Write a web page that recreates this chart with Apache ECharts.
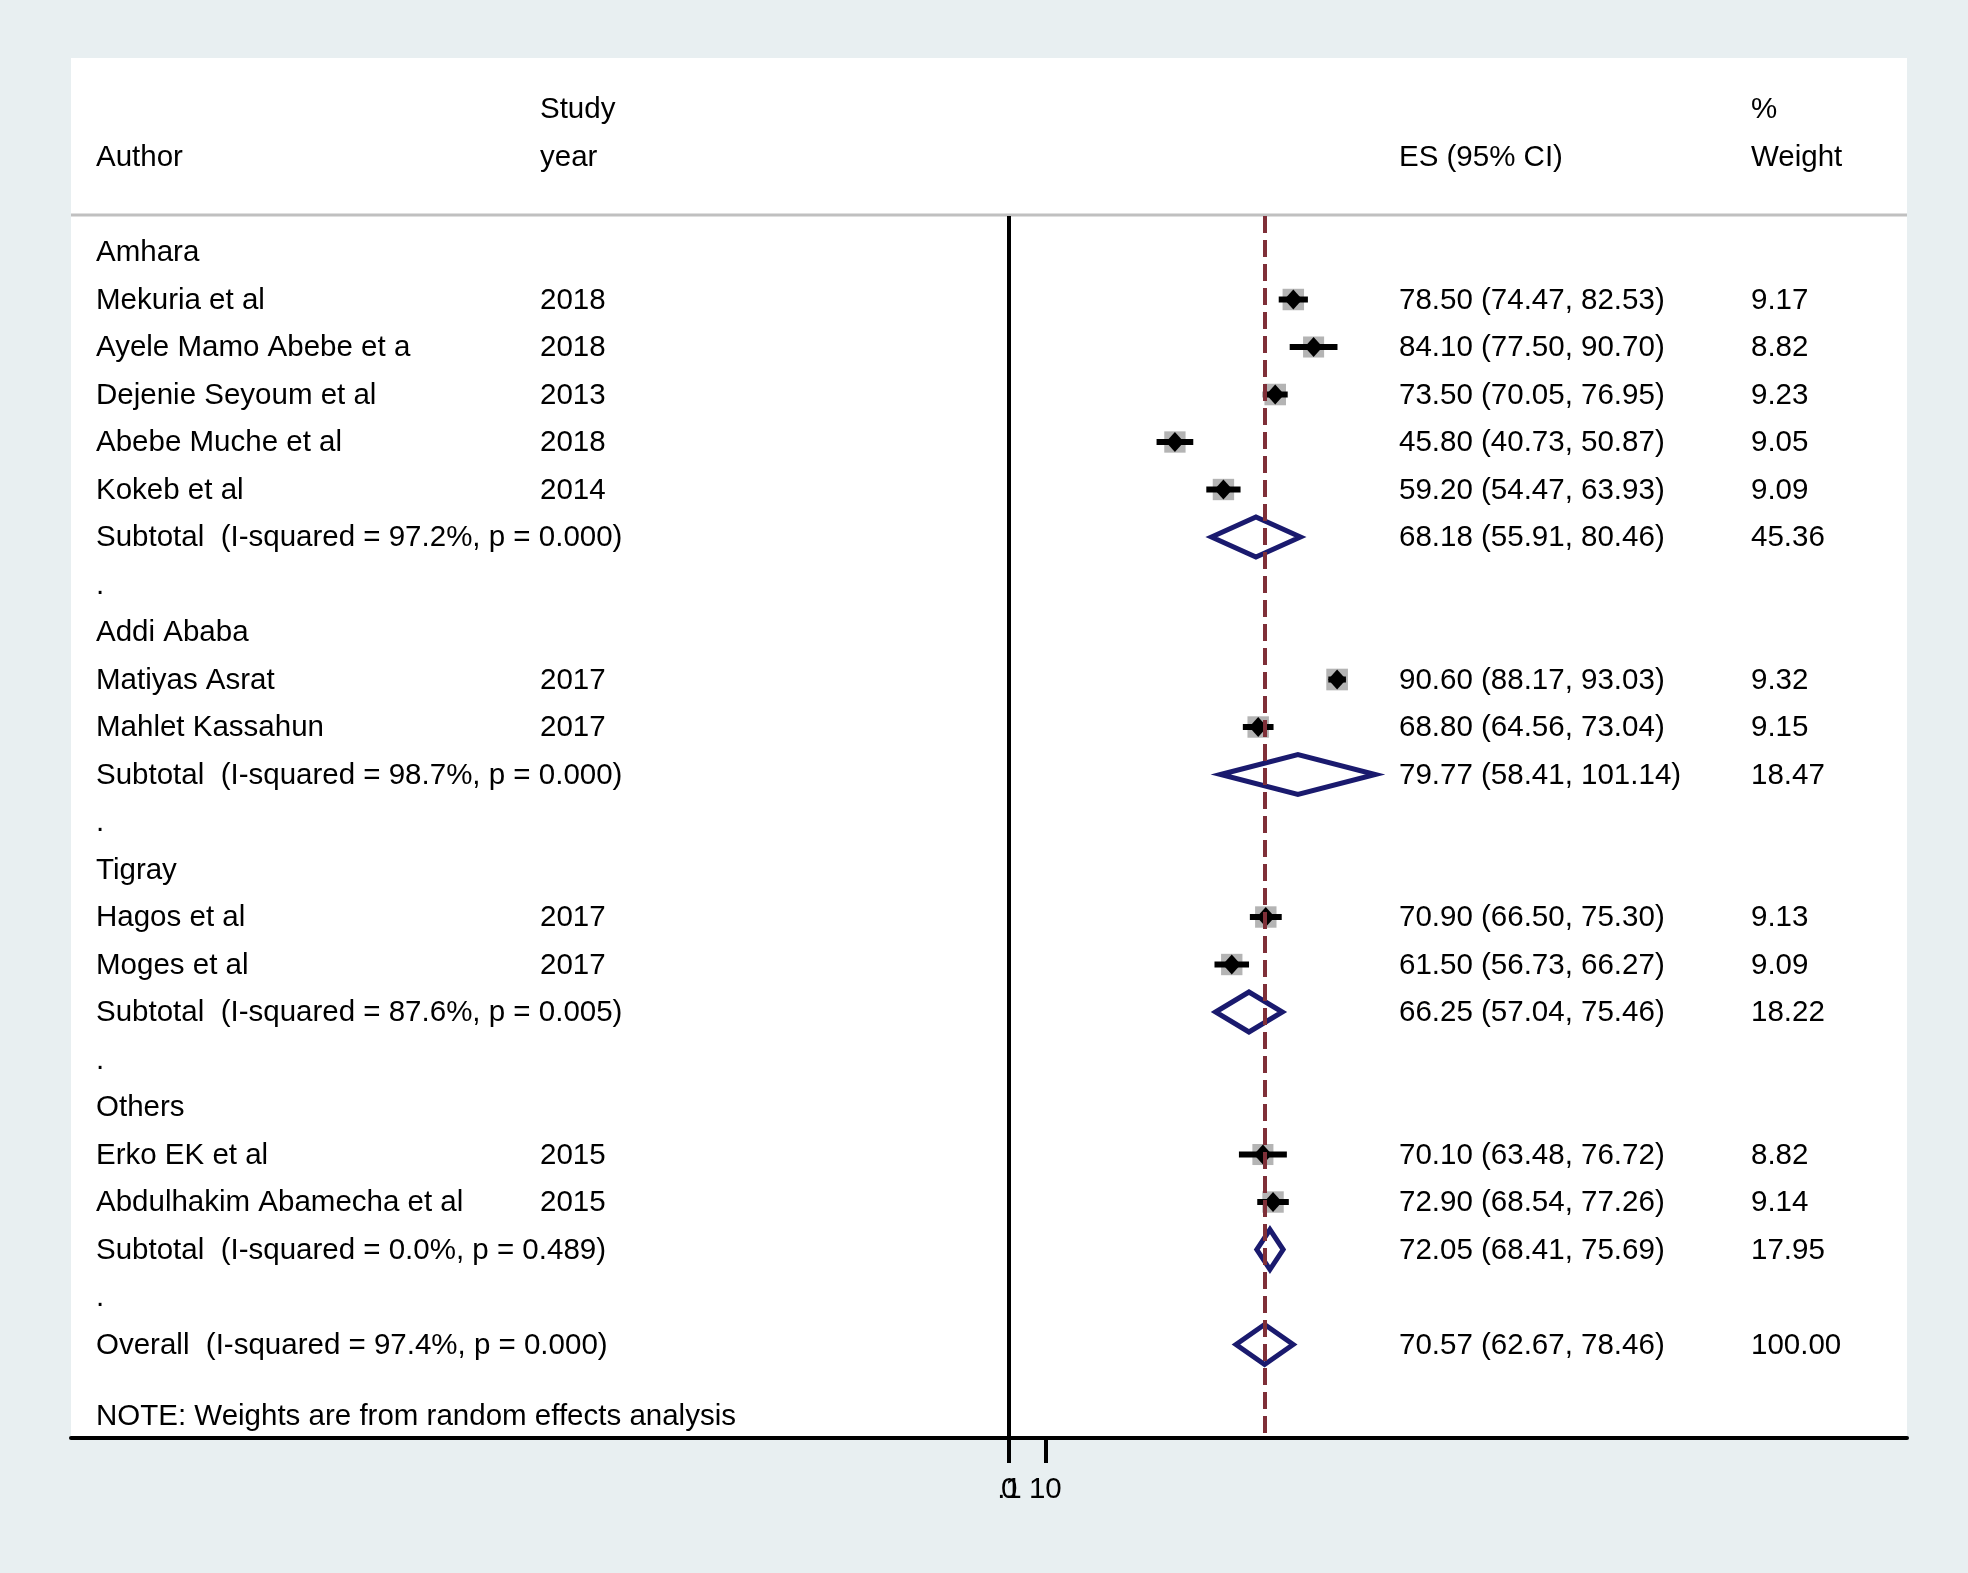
<!DOCTYPE html>
<html>
<head>
<meta charset="utf-8">
<script src="https://cdn.jsdelivr.net/npm/echarts@6/dist/echarts.min.js"></script>
<style>
  html, body { margin: 0; padding: 0; background: #e8eff1; }
  #main { width: 1968px; height: 1573px; }
</style>
</head>
<body>
<div id="main"></div>
<script>
// studies
const studyAuthor = ['Mekuria et al', 'Ayele Mamo Abebe et a', 'Dejenie Seyoum et al', 'Abebe Muche et al', 'Kokeb et al',
  'Matiyas Asrat', 'Mahlet Kassahun', 'Hagos et al', 'Moges et al', 'Erko EK et al', 'Abdulhakim Abamecha et al'];
const studyYear = ['2018', '2018', '2013', '2018', '2014', '2017', '2017', '2017', '2017', '2015', '2015'];
const studyES = [78.50, 84.10, 73.50, 45.80, 59.20, 90.60, 68.80, 70.90, 61.50, 70.10, 72.90];
const studyLo = [74.47, 77.50, 70.05, 40.73, 54.47, 88.17, 64.56, 66.50, 56.73, 63.48, 68.54];
const studyHi = [82.53, 90.70, 76.95, 50.87, 63.93, 93.03, 73.04, 75.30, 66.27, 76.72, 77.26];
const studyWeight = [9.17, 8.82, 9.23, 9.05, 9.09, 9.32, 9.15, 9.13, 9.09, 8.82, 9.14];
const studyRow = [1, 2, 3, 4, 5, 9, 10, 14, 15, 19, 20];

// subgroups
const groupName = ['Amhara', 'Addi Ababa', 'Tigray', 'Others'];
const groupRow = [0, 8, 13, 18];
const subI2 = ['97.2%', '98.7%', '87.6%', '0.0%'];
const subP = ['0.000', '0.000', '0.005', '0.489'];
const subES = [68.18, 79.77, 66.25, 72.05];
const subLo = [55.91, 58.41, 57.04, 68.41];
const subHi = [80.46, 101.14, 75.46, 75.69];
const subWeight = [45.36, 18.47, 18.22, 17.95];
const subRow = [6, 11, 16, 21];
const dotRow = [7, 12, 17, 22];

// overall
const overallES = 70.57, overallLo = 62.67, overallHi = 78.46, overallWeight = 100.00;
const overallI2 = '97.4%', overallP = '0.000';
const overallRow = 23;
const noteRow = 24.5;

// x axis ticks (0 and 10 on the main axis, .1 printed over the 0)
const tickValues = [0, 10];
const extraTickValues = [0.1];

const FONT = '"Liberation Sans", Arial, sans-serif';
const FS = 29.5;
const X_AUTHOR = 96, X_YEAR = 540, X_ES = 1399, X_WT = 1751;
const X_MIN = -259.1, X_MAX = 248;

function ci(es, lo, hi) {
  return es.toFixed(2) + ' (' + lo.toFixed(2) + ', ' + hi.toFixed(2) + ')';
}

// table rows (text columns)
const tableRows = [];
groupName.forEach((g, i) => tableRows.push({ row: groupRow[i], author: g }));
studyAuthor.forEach((a, i) => tableRows.push({
  row: studyRow[i], author: a, year: studyYear[i],
  es: ci(studyES[i], studyLo[i], studyHi[i]), wt: studyWeight[i].toFixed(2)
}));
subES.forEach((v, i) => tableRows.push({
  row: subRow[i], author: 'Subtotal  (I-squared = ' + subI2[i] + ', p = ' + subP[i] + ')',
  es: ci(v, subLo[i], subHi[i]), wt: subWeight[i].toFixed(2)
}));
dotRow.forEach(r => tableRows.push({ row: r, author: '.' }));
tableRows.push({
  row: overallRow, author: 'Overall  (I-squared = ' + overallI2 + ', p = ' + overallP + ')',
  es: ci(overallES, overallLo, overallHi), wt: overallWeight.toFixed(2)
});
tableRows.push({ row: noteRow, author: 'NOTE: Weights are from random effects analysis' });

const pooledData = subES.map((v, i) => [v, subRow[i], subLo[i], subHi[i]]);
pooledData.push([overallES, overallRow, overallLo, overallHi]);

function txt(x, y, s) {
  return { type: 'text', x: x, y: y + 1, style: { text: s, font: FS + 'px ' + FONT, fill: '#000', align: 'left', verticalAlign: 'middle' } };
}

const chart = echarts.init(document.getElementById('main'));
chart.setOption({
  backgroundColor: '#e8eff1',
  animation: false,
  graphic: [
    { type: 'rect', z: -1, shape: { x: 71, y: 58, width: 1836, height: 1380 }, style: { fill: '#fff' } },
    { type: 'line', shape: { x1: 71, y1: 215, x2: 1907, y2: 215 }, style: { stroke: '#c0c0c0', lineWidth: 3 } },
    txt(X_AUTHOR, 157, 'Author'),
    txt(X_YEAR, 109, 'Study'),
    txt(X_YEAR, 157, 'year'),
    txt(X_ES, 157, 'ES (95% CI)'),
    txt(X_WT, 109, '%'),
    txt(X_WT, 157, 'Weight')
  ],
  grid: { left: 71, right: 61, top: 216, bottom: 135 },
  xAxis: [
    {
      type: 'value',
      position: 'bottom',
      min: X_MIN,
      max: X_MAX,
      splitLine: { show: false },
      axisLine: { show: true, onZero: false, lineStyle: { color: '#000', width: 4 } },
      axisTick: { show: true, inside: false, customValues: tickValues, length: 25, lineStyle: { color: '#000', width: 4 } },
      axisLabel: {
        show: true, customValues: tickValues, margin: 37,
        color: '#000', fontSize: 29.5, fontFamily: FONT
      }
    },
    {
      type: 'value',
      position: 'bottom',
      offset: 0,
      min: X_MIN,
      max: X_MAX,
      splitLine: { show: false },
      axisLine: { show: false, onZero: false },
      axisTick: { show: false, customValues: extraTickValues },
      axisLabel: {
        show: true, customValues: extraTickValues, margin: 37,
        color: '#000', fontSize: 29.5, fontFamily: FONT,
        formatter: v => String(v).replace(/^0\./, '.')
      }
    }
  ],
  yAxis: {
    type: 'value',
    inverse: true,
    min: -0.758,
    max: 24.968,
    show: false
  },
  series: [
    {
      // study estimates
      type: 'custom',
      clip: false,
      data: studyES.map((v, i) => [v, studyRow[i], studyLo[i], studyHi[i], studyWeight[i]]),
      encode: { x: 0, y: 1 },
      renderItem: function (params, api) {
        const c = api.coord([api.value(0), api.value(1)]);
        const lo = api.coord([api.value(2), api.value(1)])[0];
        const hi = api.coord([api.value(3), api.value(1)])[0];
        const s = 21.5 * Math.sqrt(api.value(4) / 9.2);
        return {
          type: 'group',
          children: [
            { type: 'rect', shape: { x: c[0] - s / 2, y: c[1] - s / 2, width: s, height: s }, style: { fill: '#b4b4b4' } },
            { type: 'line', shape: { x1: lo, y1: c[1], x2: hi, y2: c[1] }, style: { stroke: '#000', lineWidth: 6 } },
            { type: 'polygon', shape: { points: [[c[0] - 9, c[1]], [c[0], c[1] - 10], [c[0] + 9, c[1]], [c[0], c[1] + 10]] }, style: { fill: '#000' } }
          ]
        };
      },
      markLine: {
        silent: true,
        symbol: ['none', 'none'],
        label: { show: false },
        data: [
          { xAxis: 0, lineStyle: { color: '#000', width: 4, type: 'solid' } },
          { xAxis: overallES, lineStyle: { color: '#7f2f38', width: 4, type: [17, 7] } }
        ]
      }
    },
    {
      // pooled diamonds
      type: 'custom',
      clip: false,
      z: 3,
      data: pooledData,
      encode: { x: 0, y: 1 },
      renderItem: function (params, api) {
        const c = api.coord([api.value(0), api.value(1)]);
        const lo = api.coord([api.value(2), api.value(1)])[0];
        const hi = api.coord([api.value(3), api.value(1)])[0];
        return {
          type: 'polygon',
          shape: { points: [[lo, c[1]], [c[0], c[1] - 20], [hi, c[1]], [c[0], c[1] + 20]] },
          style: { fill: 'none', stroke: '#1a1a6e', lineWidth: 5, lineJoin: 'miter' }
        };
      }
    },
    {
      // table text
      type: 'custom',
      clip: false,
      silent: true,
      data: tableRows.map(r => [0, r.row]),
      encode: { x: 0, y: 1 },
      renderItem: function (params, api) {
        const r = tableRows[params.dataIndex];
        const y = api.coord([0, api.value(1)])[1];
        const children = [txt(X_AUTHOR, y, r.author)];
        if (r.year) children.push(txt(X_YEAR, y, r.year));
        if (r.es) children.push(txt(X_ES, y, r.es));
        if (r.wt) children.push(txt(X_WT, y, r.wt));
        return { type: 'group', children: children };
      }
    }
  ]
});
</script>
</body>
</html>
